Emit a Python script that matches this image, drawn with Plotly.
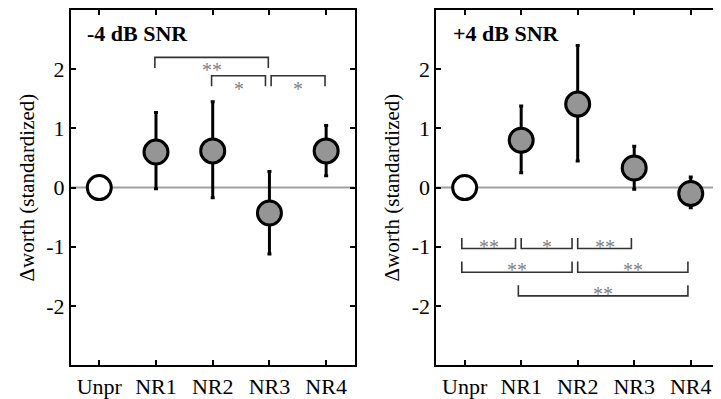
import plotly.graph_objects as go

# ---------------- data ----------------
categories = ["Unpr", "NR1", "NR2", "NR3", "NR4"]

neg_mean = [0.0, 0.60, 0.62, -0.43, 0.62]
neg_upper = [0.0, 1.27, 1.45, 0.27, 1.05]
neg_lower = [0.0, -0.02, -0.17, -1.12, 0.20]

pos_mean = [0.0, 0.80, 1.41, 0.33, -0.10]
pos_upper = [0.0, 1.38, 2.40, 0.70, 0.18]
pos_lower = [0.0, 0.25, 0.45, -0.03, -0.34]

# significance brackets: (from, to, row, label)
neg_brackets = [("NR1", "NR3", 0, "**"), ("NR2", "NR3", 1, "*"), ("NR3", "NR4", 1, "*")]
pos_brackets = [("Unpr", "NR1", 0, "**"), ("NR1", "NR2", 0, "*"), ("NR2", "NR3", 0, "**"),
                ("Unpr", "NR2", 1, "**"), ("NR2", "NR4", 1, "**"),
                ("NR1", "NR4", 2, "**")]

panel_titles = ["-4 dB SNR", "+4 dB SNR"]
y_title = "Δworth (standardized)"
y_ticks = [-2, -1, 0, 1, 2]
y_ticktext = ["-2", "-1", "0", "1", "2"]

# ---------------- figure ----------------
FONT = "Liberation Serif, Times New Roman, serif"
OFF = 8                      # page body margin
W, H = 721 - OFF, 399 - OFF
fig = go.Figure()

xs = list(range(1, len(categories) + 1))
idx = {c: i + 1 for i, c in enumerate(categories)}

def add_panel(mean, upper, lower, xa, ya):
    fig.add_trace(go.Scatter(
        x=xs[:1], y=mean[:1], mode="markers", xaxis=xa, yaxis=ya,
        marker=dict(size=24, color="white", line=dict(color="black", width=3)),
        showlegend=False, hoverinfo="skip"))
    plus = [u - m for u, m in zip(upper[1:], mean[1:])]
    minus = [m - l for m, l in zip(mean[1:], lower[1:])]
    fig.add_trace(go.Scatter(
        x=xs[1:], y=mean[1:], mode="markers", xaxis=xa, yaxis=ya,
        error_y=dict(type="data", symmetric=False, array=plus, arrayminus=minus,
                     color="black", thickness=3, width=2),
        marker=dict(size=24, color="#959595", line=dict(color="black", width=3)),
        showlegend=False, hoverinfo="skip"))

add_panel(neg_mean, neg_upper, neg_lower, "x", "y")
add_panel(pos_mean, pos_upper, pos_lower, "x2", "y2")

shapes = []
annotations = []

def add_brackets(brackets, xr, yr, base, step, leg, shift, gap, star_off):
    for (a, b, row, lab) in brackets:
        i, j = idx[a], idx[b]
        shared_left = any(r == row and idx[bb] == i for (aa, bb, r, _) in brackets)
        shared_right = any(r == row and idx[aa] == j for (aa, bb, r, _) in brackets)
        x0 = i + shift + (gap if shared_left else 0)
        x1 = j + shift - (gap if shared_right else 0)
        y = base + step * row
        shapes.append(dict(type="path", xref=xr, yref=yr,
                           path=f"M {x0},{y+leg} L {x0},{y} L {x1},{y} L {x1},{y+leg}",
                           line=dict(color="#333333", width=1.6)))
        annotations.append(dict(x=(x0 + x1) / 2, y=y + star_off, xref=xr, yref=yr,
                                text=lab, showarrow=False, yanchor="middle",
                                font=dict(family=FONT, size=20, color="#7f7f7f")))

add_brackets(neg_brackets, "x", "y", 2.2, -0.31, -0.18, -0.02, 0.05, -0.22)
add_brackets(pos_brackets, "x2", "y2", -1.03, -0.40, 0.18, -0.05, 0.05, 0.03)

for k, xr in enumerate(["x", "x2"]):
    annotations.append(dict(x=0.05, y=0.975, xref=f"{xr} domain", yref=("y" if k == 0 else "y2") + " domain",
                            text=f"<b>{panel_titles[k]}</b>", showarrow=False,
                            xanchor="left", yanchor="top",
                            font=dict(family=FONT, size=22, color="black")))

for xr, yr in [("x", "y"), ("x2", "y2")]:
    shapes.insert(0, dict(type="line", xref=f"{xr} domain", yref=yr, x0=0, x1=1, y0=0, y1=0,
                          line=dict(color="#a0a0a0", width=2), layer="below"))

ydom = [(H - (366 - OFF)) / H, (H - (9 - OFF)) / H]
axis_common = dict(showgrid=False, zeroline=False, showline=True, linecolor="black", linewidth=2,
                   mirror="ticks", ticks="inside", ticklen=5, tickwidth=1.5, tickcolor="black",
                   tickfont=dict(family=FONT, size=22, color="black"))
ytitle = dict(text=y_title, font=dict(family=FONT, size=21, color="black"), standoff=6)

fig.update_layout(
    width=W, height=H, margin=dict(l=0, r=0, t=0, b=0),
    paper_bgcolor="white", plot_bgcolor="white",
    xaxis=dict(domain=[(71 - OFF) / W, (355 - OFF) / W], range=[0.5, 5.5], tickvals=xs,
               ticktext=categories, anchor="y", **axis_common),
    yaxis=dict(domain=ydom, range=[-3, 3], tickvals=y_ticks, ticktext=y_ticktext, anchor="x",
               title=ytitle, **axis_common),
    xaxis2=dict(domain=[(437 - OFF) / W, (720 - OFF) / W], range=[0.5, 5.5], tickvals=xs,
                ticktext=categories, anchor="y2", **axis_common),
    yaxis2=dict(domain=ydom, range=[-3, 3], tickvals=y_ticks, ticktext=y_ticktext, anchor="x2",
                title=ytitle, **axis_common),
    shapes=shapes, annotations=annotations,
)

fig.write_html("out.html")
